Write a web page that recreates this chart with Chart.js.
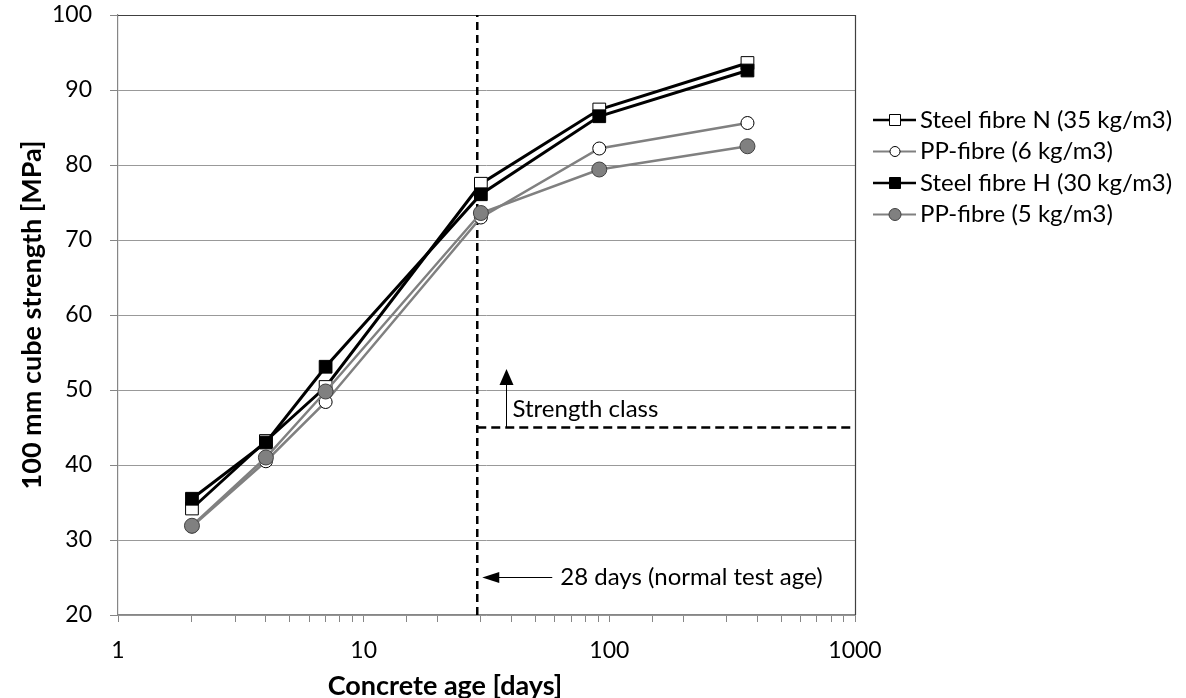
<!DOCTYPE html>
<html lang="en">
<head>
    <meta charset="UTF-8">
    <title>Concrete strength development</title>
    <style>
        body { margin: 0; background: #fff; }
        .chart-box { width: 1186px; height: 698px; }
    </style>
</head>
<body>
    <div class="chart-box">
        <canvas id="strengthChart"></canvas>
    </div>

    <script src="https://cdn.jsdelivr.net/npm/chart.js"></script>
    <script>
        // Values
        const ageDays = [2, 4, 7, 30, 91, 365];
        const steelN = [34.2, 43.2, 50.4, 77.5, 87.4, 93.6];
        const pp6 = [31.8, 40.5, 48.4, 73.0, 82.2, 85.6];
        const steelH = [35.5, 43.0, 53.1, 76.1, 86.5, 92.6];
        const pp5 = [31.9, 41.0, 49.8, 73.6, 79.4, 82.5];

        const seriesNames = ['Steel fibre N (35 kg/m3)', 'PP-fibre (6 kg/m3)', 'Steel fibre H (30 kg/m3)', 'PP-fibre (5 kg/m3)'];
        const xTickLabels = [1, 10, 100, 1000];
        const yTicks = [20, 30, 40, 50, 60, 70, 80, 90, 100];

        // reference lines (days / MPa)
        const testAgeLine = 29;
        const strengthClass = 45;
        const strengthArrowAge = 38;
        const strengthArrowTip = 52.8;
        const testAgeArrowLevel = 25.1;

        const FONT = 'Lato, "Open Sans", sans-serif';
        const GREY = '#808080';

        const toPoints = vals => vals.map((v, i) => ({ x: ageDays[i], y: v }));

        const datasets = [
            {
                label: seriesNames[0], data: toPoints(steelN), order: 4,
                borderColor: '#000', borderWidth: 3,
                pointStyle: 'rect', pointRadius: 9, pointBackgroundColor: '#fff',
                pointBorderColor: '#000', pointBorderWidth: 1
            },
            {
                label: seriesNames[1], data: toPoints(pp6), order: 3,
                borderColor: GREY, borderWidth: 2.5,
                pointStyle: 'circle', pointRadius: 6.5, pointBackgroundColor: '#fff',
                pointBorderColor: '#000', pointBorderWidth: 1
            },
            {
                label: seriesNames[2], data: toPoints(steelH), order: 2,
                borderColor: '#000', borderWidth: 3,
                pointStyle: 'rect', pointRadius: 9, pointBackgroundColor: '#000',
                pointBorderColor: '#000', pointBorderWidth: 1
            },
            {
                label: seriesNames[3], data: toPoints(pp5), order: 1,
                borderColor: GREY, borderWidth: 2.5,
                pointStyle: 'circle', pointRadius: 7.5, pointBackgroundColor: GREY,
                pointBorderColor: '#404040', pointBorderWidth: 1
            },
            {
                label: 'test age', data: [{ x: testAgeLine, y: 20 }, { x: testAgeLine, y: 100 }], order: 10,
                borderColor: '#000', borderWidth: 2.5, borderDash: [8, 5], pointRadius: 0
            },
            {
                label: 'strength class', data: [{ x: testAgeLine, y: strengthClass }, { x: 1000, y: strengthClass }], order: 10,
                borderColor: '#000', borderWidth: 2.5, borderDash: [9, 5], pointRadius: 0
            }
        ];

        function arrow(ctx, x1, y1, x2, y2, len, half) {
            const ang = Math.atan2(y2 - y1, x2 - x1);
            ctx.beginPath();
            ctx.moveTo(x1, y1);
            ctx.lineTo(x2 - Math.cos(ang) * len * 0.8, y2 - Math.sin(ang) * len * 0.8);
            ctx.stroke();
            ctx.beginPath();
            ctx.moveTo(x2, y2);
            ctx.lineTo(x2 - Math.cos(ang) * len - Math.sin(ang) * half, y2 - Math.sin(ang) * len + Math.cos(ang) * half);
            ctx.lineTo(x2 - Math.cos(ang) * len + Math.sin(ang) * half, y2 - Math.sin(ang) * len - Math.cos(ang) * half);
            ctx.closePath();
            ctx.fill();
        }

        const overlay = {
            id: 'overlay',
            beforeDatasetsDraw(chart) {
                const { ctx, chartArea: a } = chart;
                ctx.save();
                ctx.strokeStyle = '#404040';
                ctx.lineWidth = 1.2;
                ctx.beginPath();
                ctx.moveTo(a.left, a.top + 0.5);
                ctx.lineTo(a.right + 0.5, a.top + 0.5);
                ctx.lineTo(a.right + 0.5, a.bottom);
                ctx.stroke();
                ctx.restore();
            },
            afterDraw(chart) {
                const { ctx, scales: { x, y } } = chart;
                ctx.save();
                ctx.strokeStyle = '#000';
                ctx.fillStyle = '#000';
                ctx.lineWidth = 1;

                // strength class arrow + label
                const sx = Math.round(x.getPixelForValue(strengthArrowAge)) + 0.5;
                arrow(ctx, sx, y.getPixelForValue(strengthClass), sx, y.getPixelForValue(strengthArrowTip), 16, 7);
                ctx.font = '24px ' + FONT;
                ctx.textBaseline = 'middle';
                ctx.textAlign = 'left';
                ctx.fillText('Strength class', sx + 6, y.getPixelForValue(strengthClass) - 18);

                // 28 days arrow + label
                const lx = x.getPixelForValue(testAgeLine);
                const ly = Math.round(y.getPixelForValue(testAgeArrowLevel)) + 0.5;
                arrow(ctx, lx + 75, ly, lx + 5, ly, 17, 5.5);
                ctx.fillText('28 days (normal test age)', lx + 83, ly);

                // x axis title (sits left of the plot centre in the original)
                ctx.font = 'bold 27px ' + FONT;
                ctx.textAlign = 'center';
                ctx.fillText('Concrete age [days]', 445, 686);

                // legend
                const rows = [120, 151.5, 183, 214.5];
                ctx.font = '24px ' + FONT;
                ctx.textAlign = 'left';
                chart.data.datasets.slice(0, 4).forEach((ds, i) => {
                    const ry = rows[i];
                    ctx.strokeStyle = ds.borderColor;
                    ctx.lineWidth = ds.borderWidth === 3 ? 2.5 : 2;
                    ctx.beginPath();
                    ctx.moveTo(873, ry);
                    ctx.lineTo(916, ry);
                    ctx.stroke();
                    ctx.fillStyle = ds.pointBackgroundColor;
                    ctx.strokeStyle = ds.pointBorderColor;
                    ctx.lineWidth = 1;
                    ctx.beginPath();
                    if (ds.pointStyle === 'rect') {
                        ctx.rect(889.5, ry - 5.5, 11, 11);
                    } else {
                        ctx.arc(895, ry, ds.pointRadius > 7 ? 6 : 5, 0, Math.PI * 2);
                    }
                    ctx.fill();
                    ctx.stroke();
                    ctx.fillStyle = '#000';
                    ctx.fillText(ds.label, 920, ry);
                });
                ctx.restore();
            }
        };

        new Chart(document.getElementById('strengthChart'), {
            type: 'scatter',
            data: { datasets },
            options: {
                responsive: true,
                maintainAspectRatio: false,
                animation: false,
                events: [],
                showLine: true,
                layout: { padding: { top: 15, right: 331, left: 0, bottom: 0 } },
                plugins: {
                    legend: { display: false },
                    tooltip: { enabled: false }
                },
                scales: {
                    x: {
                        type: 'logarithmic',
                        min: 1,
                        max: 1000,
                        afterFit: s => { s.height = 83; s.paddingLeft = 0; s.paddingRight = 0; },
                        border: { color: '#868686', width: 1.2 },
                        grid: { drawOnChartArea: false, tickLength: 7, color: '#868686' },
                        ticks: {
                            autoSkip: false,
                            maxRotation: 0,
                            padding: 15,
                            color: '#000',
                            font: { family: FONT, size: 23 },
                            callback: v => xTickLabels.includes(v) ? String(v) : ''
                        }
                    },
                    y: {
                        min: 20,
                        max: 100,
                        afterFit: s => { s.width = 118; s.paddingTop = 0; s.paddingBottom = 0; },
                        afterBuildTicks: s => { s.ticks = yTicks.map(v => ({ value: v })); },
                        border: { color: '#868686', width: 1.2 },
                        grid: { color: '#999', tickLength: 8, tickColor: '#868686' },
                        ticks: {
                            padding: 18,
                            color: '#000',
                            font: { family: FONT, size: 23 }
                        },
                        title: {
                            display: true,
                            text: '100 mm cube strength [MPa]',
                            color: '#000',
                            font: { family: FONT, size: 27, weight: 'bold', lineHeight: 1 },
                            padding: { top: 19, bottom: 0 }
                        }
                    }
                }
            },
            plugins: [overlay]
        });
    </script>
</body>
</html>
